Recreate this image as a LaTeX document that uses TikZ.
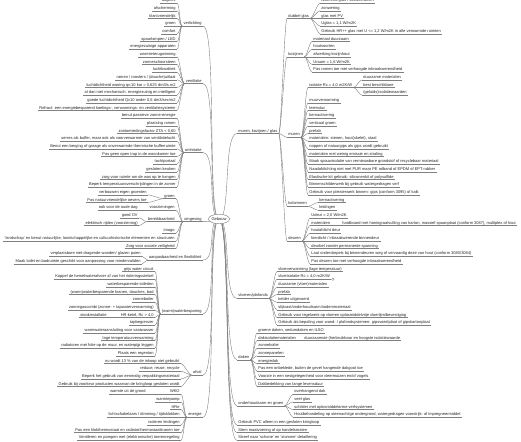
\documentclass[tikz,border=0pt]{standalone}
\usepackage{fontspec}
\setmainfont{Liberation Sans}
\usetikzlibrary{shapes.geometric}

\newcommand\ry[1]{3.1+7.67*(#1)}

\tikzset{
  txt/.style={font=\fontsize{4}{4.4}\selectfont, text=black!85, inner xsep=1.2pt, inner ysep=0.4pt,
    text height=2.9pt, text depth=0.8pt,
    append after command={\pgfextra{\let\lastnd\tikzlastnode}
      (\lastnd.south west) edge[uline] (\lastnd.south east)}},
  lft/.style={txt, anchor=south east},
  rgt/.style={txt, anchor=south west},
  uline/.style={draw=black!50, line width=0.4pt},
  con/.style={draw=black!50, line width=0.4pt},
  root/.style={ellipse, draw=black!55, fill=white, line width=0.4pt, inner sep=0pt,
    minimum width=21pt, minimum height=9.5pt, font=\fontsize{4}{4.4}\selectfont, text=black!85}
}

\begin{document}
\begin{tikzpicture}[x=1pt,y=-1pt]
  \useasboundingbox (0,0) rectangle (521,441);

  % linker kant
  \node[lft] (verl) at (203,{\ry{3}}) {verlichting};
  \foreach \k/\t in {0/{daglicht},1/{afscherming},2/{klantvriendelijk},3/{groen},4/{comfort},
      5/{spaarlampen / LED},6/{energiezuinige apparaten}}{
    \node[lft] (verl\k) at (177,{\ry{\k}}) {\t};
    \draw[con] (verl.south west) .. controls +(-2.5,0) and +(2.5,0) .. (verl\k.south east);
  }

  \node[lft] (vent) at (203,{\ry{10.5}}) {ventilatie};
  \foreach \k/\t in {7/{warmteterugwinning},8/{zonneschoorsteen},9/{luchtkwaliteit},
      10/{ramen / roosters / (douche)uitlaat},
      11/{luchtdichtheid woning qv;10 kar = 0,625 dm3/s.m2},
      12/{al dan niet mechanisch: energiezuinig en intelligent},
      13/{goede luchtdichtheid Qv10 onder 0,6 dm3/sec/m2},
      14/{Refract: een energiebesparend koelings-, verwarmings- en ventilatiesysteem}}{
    \node[lft] (vent\k) at (177,{\ry{\k}}) {\t};
    \draw[con] (vent.south west) .. controls +(-2.5,0) and +(2.5,0) .. (vent\k.south east);
  }

  \node[lft] (orie) at (203,{\ry{19.5}}) {oriëntatie};
  \foreach \k/\t in {15/{benut passieve zonne-energie},16/{plaatsing ramen},
      17/{zontoetredingsfactor ZTA < 0,60},
      18/{serres als buffer, maar ook als voorverwarmer van ventilatielucht},
      19/{Benut een berging of garage als onverwarmde thermische bufferruimte},
      20/{Pas geen open trap in de woonkamer toe},21/{tochtportaal},22/{gesloten keuken},
      23/{zorg voor ruimte om de was op te hangen},
      24/{Beperk temperatuuroverschrijdingen in de zomer}}{
    \node[lft] (orie\k) at (177,{\ry{\k}}) {\t};
    \draw[con] (orie.south west) .. controls +(-2.5,0) and +(2.5,0) .. (orie\k.south east);
  }

  \node[lft] (omg) at (203,{\ry{28.5}}) {omgeving};
  \foreach \k/\y/\t in {1/25.5/{groen},2/27/{voorzieningen},3/28.5/{bereikbaarheid},4/30/{imago},
      5/31/{'landschap' en benut natuurlijke, landschappelijke en cultuurhistorische elementen en structuren},
      6/32/{Zorg voor sociale veiligheid}}{
    \node[lft] (omg\k) at (176,{\ry{\y}}) {\t};
    \draw[con] (omg.south west) .. controls +(-2.5,0) and +(2.5,0) .. (omg\k.south east);
  }
  \foreach \k/\t in {25/{verbouwen eigen groenten},26/{Pas natuurvriendelijke oevers toe}}{
    \node[lft] (groen\k) at (148,{\ry{\k}}) {\t};
    \draw[con] (omg1.south west) .. controls +(-2.5,0) and +(2.5,0) .. (groen\k.south east);
  }
  \node[lft] (oudedag) at (139,{\ry{27}}) {ook voor de oude dag};
  \draw[con] (omg2.south west) -- (oudedag.south east);
  \foreach \k/\t in {28/{goed OV},29/{elektrisch rijden (voorziening)}}{
    \node[lft] (bereik\k) at (139,{\ry{\k}}) {\t};
    \draw[con] (omg3.south west) .. controls +(-2.5,0) and +(2.5,0) .. (bereik\k.south east);
  }

  \node[lft] (aanp) at (203,{\ry{33.5}}) {aanpasbaarheid en flexibiliteit};
  \foreach \k/\t in {33/{verplaatsbare niet-dragende wanden/ glazen puien},
      34/{Maak toilet en badruimte geschikt voor aanpassing voor mindervaliden}}{
    \node[lft] (aanp\k) at (142,{\ry{\k}}) {\t};
    \draw[con] (aanp.south west) .. controls +(-2.5,0) and +(2.5,0) .. (aanp\k.south east);
  }

  \node[lft] (water) at (203,{\ry{40.5}}) {(warm)waterbesparing};
  \foreach \k/\t in {35/{grijs water circuit},
      36/{Koppel de hemelwaterafvoer af van het rioleringsstelsel},
      37/{waterbesparende toiletten},38/{(warm)waterbesparende kranen, douches, bad},
      39/{zonneboiler},40/{zonnegascombi (zonne- + tapwaterverwarming)},
      41/{HR-ketel, Rc > 4,0},42/{tapbegrenzer},43/{warmwateraansluiting voor vaatwasser},
      44/{lage temperatuurverwarming},45/{radiatoren met folie op de muur, en waterpijp leggen},
      46/{Plaats een regenton}}{
    \node[lft] (water\k) at (155,{\ry{\k}}) {\t};
    \draw[con] (water.south west) .. controls +(-2.5,0) and +(2.5,0) .. (water\k.south east);
  }
  \node[lft] (stook) at (108,{\ry{41}}) {stookinstallatie};
  \draw[con] (water41.south west) -- (stook.south east);

  \node[lft] (afval) at (203,{\ry{48.5}}) {afval};
  \foreach \k/\t in {47/{nu wordt 13 \% van de inkoop niet gebruikt},48/{reduce, reuse, recycle},
      49/{Beperk het gebruik van eenmalig verpakkingsmateriaal},
      50/{Gebruik bij voorkeur producten waarvan de kringloop gesloten wordt}}{
    \node[lft] (afval\k) at (181,{\ry{\k}}) {\t};
    \draw[con] (afval.south west) .. controls +(-2.5,0) and +(2.5,0) .. (afval\k.south east);
  }

  \node[lft] (energ) at (203,{\ry{54}}) {energie};
  \foreach \k/\t in {51/{WKO},52/{warmtepomp},53/{HRe},
      54/{lichtschakelaars / dimming / tijdsklokken},55/{isoleren leidingen},
      56/{Pas een klokthermostaat en radiatorthermostaatkranen toe},
      57/{Ventileren en pompen met (elektronische) toerenregeling}}{
    \node[lft] (energ\k) at (181,{\ry{\k}}) {\t};
    \draw[con] (energ.south west) .. controls +(-2.5,0) and +(2.5,0) .. (energ\k.south east);
  }
  \node[lft] (grond) at (147,{\ry{51}}) {warmte uit de grond};
  \draw[con] (energ51.south west) -- (grond.south east);

  % rechter kant
  \node[rgt] (mkg) at (237,{\ry{17}}) {muren, kozijnen / glas};
  \foreach \n/\y/\t in {dub/2/{dubbel glas},koz/7/{kozijnen},mur/17.5/{muren},
      kol/26.5/{kolommen},deur/31/{deuren}}{
    \node[rgt] (\n) at (287,{\ry{\y}}) {\t};
    \draw[con] (mkg.south east) .. controls +(2.5,0) and +(-2.5,0) .. (\n.south west);
  }
  \foreach \k/\t in {0/{isolerend glas / voorzetramen},1/{zonwering},2/{glas met PV},
      3/{Uglas = 1,1 W/m2K},
      4/{Gebruik HR++ glas met U <= 1,2 W/m2K in alle verwarmde ruimten}}{
    \node[rgt] (dub\k) at (320,{\ry{\k}}) {\t};
    \draw[con] (dub.south east) .. controls +(2.5,0) and +(-2.5,0) .. (dub\k.south west);
  }
  \foreach \k/\t in {5/{materiaal duurzaam},6/{houtsoorten},7/{afwerking kozijnhout},
      8/{Uraam = 1,6 W/m2K},9/{Pas ramen toe met verhoogde inbraakwerendheid}}{
    \node[rgt] (koz\k) at (312,{\ry{\k}}) {\t};
    \draw[con] (koz.south east) .. controls +(2.5,0) and +(-2.5,0) .. (koz\k.south west);
  }
  \foreach \k/\t in {11/{isolatie Rc = 4,0 m2K/W},13/{muurverwarming},14/{leemstuc},
      15/{kernactivering},16/{verticaal groen},17/{prefab},
      18/{materialen: stenen, hout(skelet), staal},
      19/{noppen of natuurgips als gips wordt gebruikt},
      20/{materialen met weinig emissie en straling},
      21/{Maak spouwisolatie van vernieuwbare grondstof of recyclebaar materiaal},
      22/{Naadafdichting niet met PUR maar PE rolband of EPDM of EPT-rubber},
      23/{Elastische kit gebruik: siliconenkit of polysulfide},
      24/{Binnenschilderwerk bij gebruik watergedragen verf},
      25/{Gebruik voor pleisterwerk binnen: gips (conform 3095) of kalk}}{
    \node[rgt] (mur\k) at (308,{\ry{\k}}) {\t};
    \draw[con] (mur.south east) .. controls +(2.5,0) and +(-2.5,0) .. (mur\k.south west);
  }
  \foreach \k/\t in {10/{duurzame materialen},11/{best beschikbare},12/{(geluids)isolatiewaarden}}{
    \node[rgt] (isol\k) at (362,{\ry{\k}}) {\t};
    \draw[con] (mur11.south east) .. controls +(2.5,0) and +(-2.5,0) .. (isol\k.south west);
  }
  \foreach \k/\t in {26/{kernactivering},27/{leidingen}}{
    \node[rgt] (kol\k) at (318,{\ry{\k}}) {\t};
    \draw[con] (kol.south east) .. controls +(2.5,0) and +(-2.5,0) .. (kol\k.south west);
  }
  \foreach \k/\t in {28/{Udeur = 2,0 W/m2K},29/{materialen},30/{houtafdicht deur},
      31/{kierdicht / inbraakwerende binnendeur},32/{deurbel zonder permanente spanning},
      33/{Laat onderdorpels bij binnendeuren weg of vervaardig deze van hout (conform 3080/3084)},
      34/{Pas deuren toe met verhoogde inbraakwerendheid}}{
    \node[rgt] (deur\k) at (310,{\ry{\k}}) {\t};
    \draw[con] (deur.south east) .. controls +(2.5,0) and +(-2.5,0) .. (deur\k.south west);
  }
  \node[rgt] (hardb) at (341,{\ry{29}}) {hardboard met honingraatvulling van karton, massief spaanplaat (conform 3087), multiplex of hout};
  \draw[con] (deur29.south east) -- (hardb.south west);

  \node[rgt] (vloer) at (237,{\ry{38.5}}) {vloeren/plafonds};
  \foreach \k/\t in {35/{vloerverwarming (lage temperatuur)},36/{vloerisolatie Rc = 4,0 m2K/W},
      37/{duurzame (vloer)materialen},38/{prefab},39/{kelder uitgevoerd},
      40/{slijtvast/onderhoudsarm bodemmateriaal},
      41/{Gebruik voor tegelwerk op vloeren oplosmiddelvrije vloerlijm/bevestiging},
      42/{Gebruik als bepaling voor wand- / plafondsystemen: gipsvezelplaat of gipskartonplaat}}{
    \node[rgt] (vloer\k) at (277,{\ry{\k}}) {\t};
    \draw[con] (vloer.south east) .. controls +(2.5,0) and +(-2.5,0) .. (vloer\k.south west);
  }
  \draw[con] ([xshift=1.6pt]vloer36.south east) circle (1.2pt);

  \node[rgt] (daken) at (237,{\ry{46.5}}) {daken};
  \foreach \k/\t in {43/{groene daken, sedumdaken en ILSO},44/{dakisolatiematerialen},
      45/{zonneboiler},46/{zonnepanelen},47/{energiedak},
      48/{Pas een onbeklede, buiten de gevel hangende dakgoot toe},
      49/{Voorzie in een nestgelegenheid voor vleermuizen en/of vogels},
      50/{Dakbedekking van lange levensduur}}{
    \node[rgt] (daken\k) at (257,{\ry{\k}}) {\t};
    \draw[con] (daken.south east) .. controls +(2.5,0) and +(-2.5,0) .. (daken\k.south west);
  }
  \node[rgt] (duurz) at (303,{\ry{44}}) {duurzaamste (herbruikbaar en hoogste isolatiewaarde};
  \draw[con] (daken44.south east) -- (duurz.south west);

  \node[rgt] (onder) at (237,{\ry{52.5}}) {onderhoudsarm en groen};
  \foreach \k/\t in {51/{overhangend dak},52/{veel glas},
      53/{schilder met oplosmiddelarme verfsystemen},
      54/{Houtbehandeling op steenachtige ondergrond, watergedragen voorstrijk- of impregneermiddel}}{
    \node[rgt] (onder\k) at (293,{\ry{\k}}) {\t};
    \draw[con] (onder.south east) .. controls +(2.5,0) and +(-2.5,0) .. (onder\k.south west);
  }

  \node[rgt] (pvc) at (237,{\ry{55}}) {Gebruik PVC alleen in een gesloten kringloop};
  \node[rgt] (maat) at (237,{\ry{56}}) {Stem maatvoering af op handelsmaten};
  \node[rgt] (detail) at (237,{\ry{57}}) {Streef naar 'schone' en 'stomme' detaillering};

  % takken vanuit het midden
  \coordinate (rc) at (219,219);
  \foreach \n in {verl,vent,orie,omg,aanp,water,afval,energ}
    \draw[con] (rc) .. controls +(-12,0) and +(14,0) .. (\n.south east);
  \foreach \n in {mkg,vloer,daken,onder,pvc,maat,detail}
    \draw[con] (rc) .. controls +(12,0) and +(-14,0) .. (\n.south west);
  \node[root] (gebouw) at (rc) {Gebouw};
\end{tikzpicture}
\end{document}
